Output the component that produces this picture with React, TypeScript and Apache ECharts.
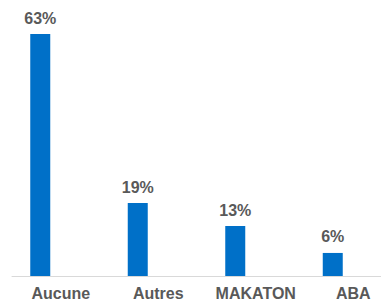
import React, { useEffect, useRef } from "react";
import * as echarts from "echarts";

const categories = ["Aucune", "Autres", "MAKATON", "ABA"];
const percentages = [63, 19, 13, 6];
const placeholder = [0, 0, 0, 0];

export default function App() {
  const ref = useRef<HTMLDivElement>(null);
  useEffect(() => {
    if (!ref.current) return;
    const chart = echarts.init(ref.current, undefined, { renderer: "svg" });
    chart.setOption({
      animation: false,
      backgroundColor: "#ffffff",
      grid: { left: 12, width: 390, top: 34, bottom: 28, containLabel: false },
      xAxis: {
        type: "category",
        data: categories,
        axisLine: { lineStyle: { color: "#D9D9D9", width: 1 } },
        axisTick: { show: false },
        axisLabel: {
          color: "#595959",
          fontFamily: "Liberation Sans, Arial, sans-serif",
          fontWeight: "bold",
          fontSize: 16,
          margin: 9,
          interval: 0,
        },
      },
      yAxis: { type: "value", min: 0, max: 63, show: false },
      series: [
        {
          type: "bar",
          data: percentages,
          barWidth: 20,
          barGap: "105%",
          itemStyle: { color: "#0070C8" },
          label: {
            show: true,
            position: "top",
            distance: 8,
            formatter: "{c}%",
            color: "#595959",
            fontFamily: "Liberation Sans, Arial, sans-serif",
            fontWeight: "bold",
            fontSize: 16,
          },
        },
        {
          type: "bar",
          data: placeholder,
          barWidth: 20,
          itemStyle: { color: "transparent" },
          label: { show: false },
        },
      ],
    });
    return () => chart.dispose();
  }, []);
  return (
    <div
      ref={ref}
      style={{ position: "absolute", left: 0, top: 0, width: 420, height: 304 }}
    />
  );
}
